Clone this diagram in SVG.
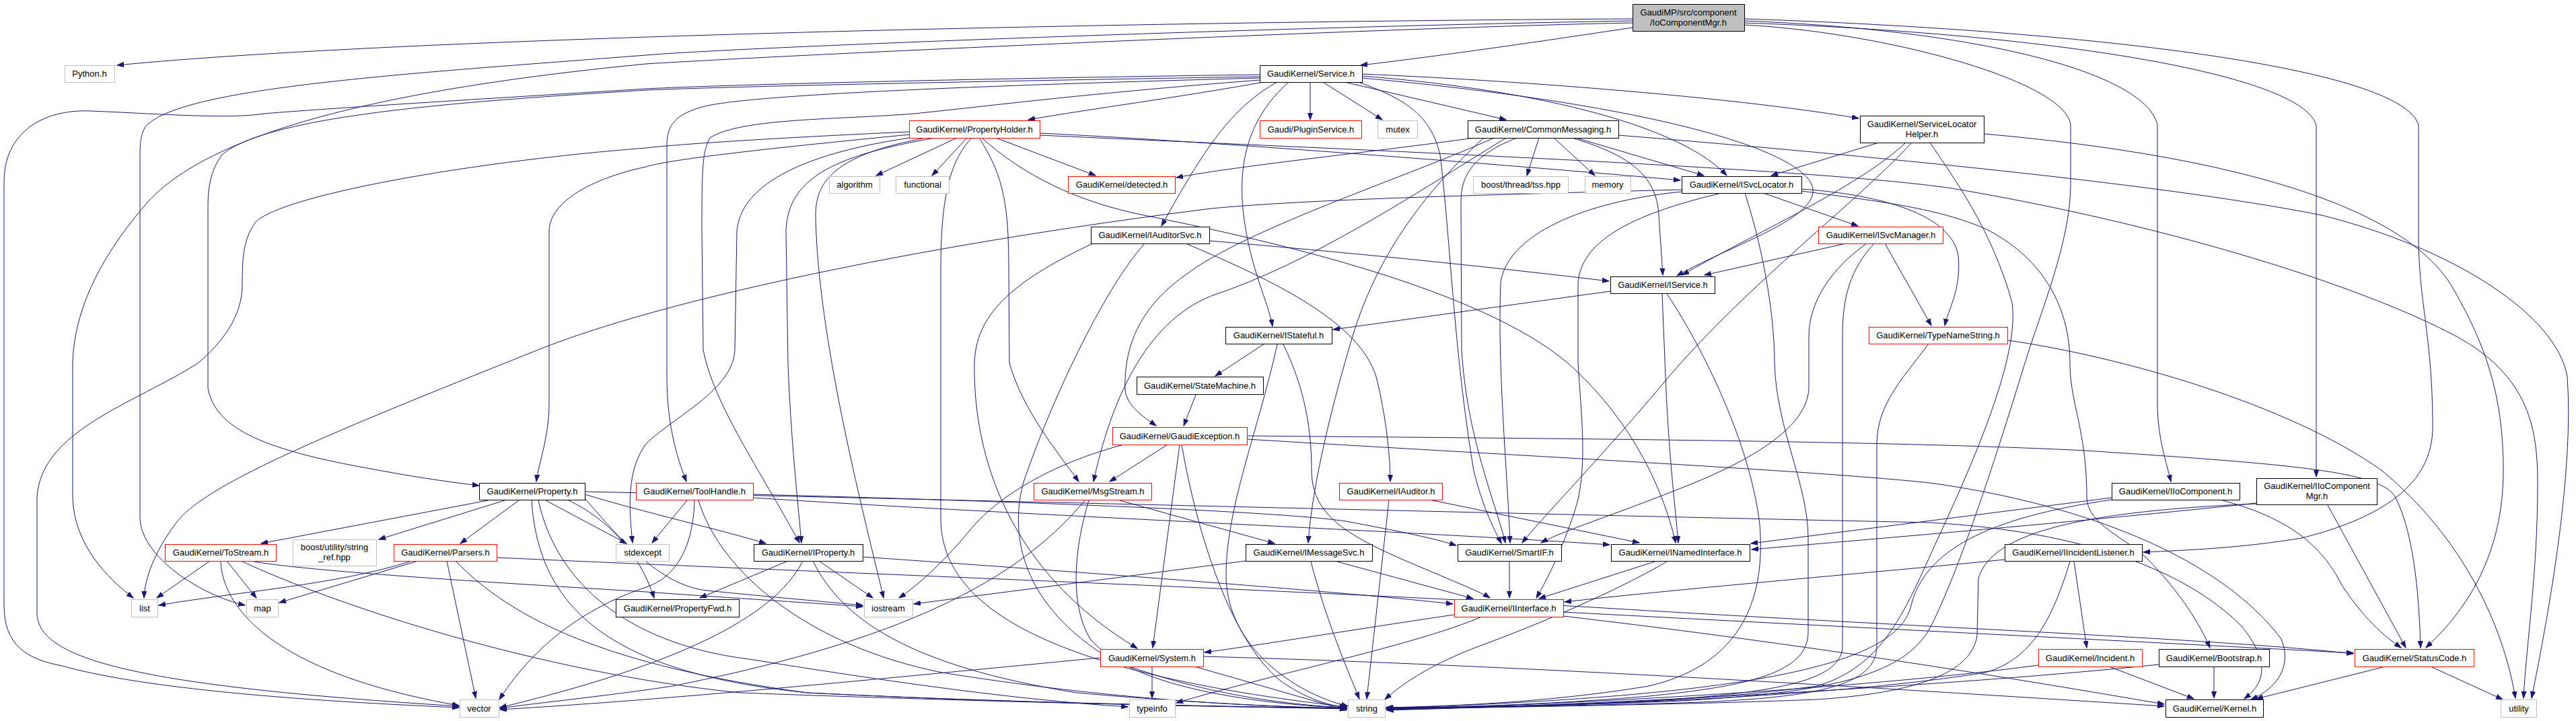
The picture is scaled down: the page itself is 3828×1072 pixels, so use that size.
<svg xmlns="http://www.w3.org/2000/svg" width="3828" height="1072" viewBox="0 0 3828 1072">
<defs>
<style>
.e{fill:none;stroke:#191970;stroke-width:1;marker-end:url(#a)}
.nb rect{fill:#fff;stroke:#000;stroke-width:1}
.ng rect{fill:#fff;stroke:#bfbfbf;stroke-width:1}
.nr rect{fill:#fff;stroke:#ff0000;stroke-width:1}
.nt rect{fill:#bfbfbf;stroke:#000;stroke-width:1}
text{font-family:"Liberation Sans",Arial,Helvetica,sans-serif;font-size:13px;fill:#000;text-anchor:middle}
</style>
<marker id="a" markerUnits="userSpaceOnUse" markerWidth="11" markerHeight="9" refX="10" refY="4" orient="auto" viewBox="0 0 11 9"><path d="M0,0.5 L10,4 L0,7.5 z" fill="#191970" stroke="#191970" stroke-width="1"/></marker>
</defs>
<rect width="3828" height="1072" fill="#fff"/>
<g id="edges">
<path class="e" d="M2426,28 C1700,32 600,55 174,97"/>
<path class="e" d="M2426,31 C1900,40 1100,70 960,82 C600,110 260,130 215,190 C208,205 208,215 208,240 L208,770 C210,830 300,885 364,900"/>
<path class="e" d="M2426,34 C2100,40 1200,80 960,95 C600,130 320,190 220,300 C150,380 110,460 108,540 L108,740 C110,810 160,860 198,889"/>
<path class="e" d="M2426,41 C2300,60 2150,82 2022,97"/>
<path class="e" d="M2592,28 C3100,45 3570,100 3594,186 L3594,350 C3594,450 3615,500 3615,635 C3615,720 3540,770 3420,800 C3330,815 3250,818 3185,821"/>
<path class="e" d="M2592,31 C2950,45 3190,110 3206,186 L3206,600 C3206,650 3220,690 3226,716"/>
<path class="e" d="M2592,34 C3050,50 3420,110 3442,186 L3442,709"/>
<path class="e" d="M2592,37 C2800,48 3070,120 3077,186 L3077,275 C3077,360 3030,470 3009,540 C2960,700 2910,850 2870,930 C2830,1010 2700,1030 2500,1042 C2300,1050 2150,1052 2060,1052"/>
<path class="e" d="M1878,122 C1750,145 1620,162 1528,178"/>
<path class="e" d="M1947,122 L1947,178"/>
<path class="e" d="M1966,122 L2054,178"/>
<path class="e" d="M1998,122 L2238,178"/>
<path class="e" d="M2024,110 C2300,122 2600,148 2762,176"/>
<path class="e" d="M2024,113 C2300,135 2500,190 2566,261"/>
<path class="e" d="M2024,116 C2400,150 2650,210 2690,270 C2720,320 2580,360 2492,410"/>
<path class="e" d="M2018,122 C2100,150 2128,180 2140,230 C2155,350 2160,520 2190,700 C2205,760 2222,790 2231,808"/>
<path class="e" d="M1898,122 C1830,160 1790,220 1726,336"/>
<path class="e" d="M1915,122 C1850,180 1840,250 1848,320 C1858,400 1885,450 1891,485"/>
<path class="e" d="M1872,114 C1500,120 1100,128 960,134 C700,150 400,170 330,230 C312,255 309,280 309,310 L309,577 C320,640 400,670 551,697 C620,710 670,717 712,722"/>
<path class="e" d="M1872,111 C1500,116 1100,125 960,132 C800,142 500,160 392,169 C340,177 250,170 135,165 C60,162 6,200 6,270 L6,900 C6,960 40,980 92,990 C200,1020 400,1040 682,1052"/>
<path class="e" d="M1872,116 C1500,126 1100,140 1040,160 C1000,172 991,190 991,215 L991,560 C991,640 1010,690 1020,716"/>
<path class="e" d="M1872,119 C1600,140 1450,160 1358,169 C1250,178 1100,175 1055,205 C1043,225 1043,260 1043,344 L1045,520 C1060,600 1130,700 1188,807"/>
<path class="e" d="M1422,205 L1302,261"/>
<path class="e" d="M1437,205 L1385,261"/>
<path class="e" d="M1480,205 L1628,261"/>
<path class="e" d="M1545,198 C1800,210 2300,250 2497,268"/>
<path class="e" d="M1545,201 C2000,222 2700,250 2900,280 C3200,330 3500,420 3650,500 C3760,560 3771,640 3771,720 C3771,850 3755,950 3750,1038"/>
<path class="e" d="M1352,200 C1200,215 1000,235 960,248 C880,265 816,300 816,344 L816,600 C816,650 800,690 797,716"/>
<path class="e" d="M1351,196 C1150,205 1000,215 960,220 C700,240 420,290 380,330 C362,355 360,380 360,424 C360,470 330,510 294,540 C200,600 60,640 55,740 L55,911 C55,980 200,1020 682,1050"/>
<path class="e" d="M1389,205 C1250,230 1170,260 1168,344 L1171,540 C1175,650 1185,740 1191,807"/>
<path class="e" d="M1376,205 C1240,230 1212,270 1212,320 C1215,500 1280,750 1313,889"/>
<path class="e" d="M1352,205 C1180,230 1100,280 1095,344 L1092,520 C1090,580 1000,620 960,660 C930,700 935,760 940,807"/>
<path class="e" d="M1444,205 C1410,240 1398,300 1398,400 L1398,773 C1400,900 1550,1000 2001,1051"/>
<path class="e" d="M1455,205 C1490,260 1499,300 1499,400 L1500,540 C1520,610 1570,670 1603,716"/>
<path class="e" d="M1459,205 C1520,260 1600,300 1700,320 C1900,360 2200,430 2330,540 C2420,620 2470,720 2490,807"/>
<path class="e" d="M2190,205 C2050,225 1850,245 1748,264"/>
<path class="e" d="M2287,205 L2269,261"/>
<path class="e" d="M2309,205 L2370,261"/>
<path class="e" d="M2342,205 L2532,261"/>
<path class="e" d="M2336,205 C2420,230 2462,260 2465,320 L2471,409"/>
<path class="e" d="M2254,205 C2190,230 2171,260 2171,300 L2172,520 C2180,650 2220,740 2237,807"/>
<path class="e" d="M2238,205 C2100,290 1950,390 1800,440 C1700,480 1650,600 1625,716"/>
<path class="e" d="M2220,205 C2100,260 1850,340 1760,410 C1690,460 1670,520 1672,580 C1675,605 1700,620 1718,633"/>
<path class="e" d="M2205,205 C2100,300 2040,400 2010,500 C1980,600 1950,720 1944,807"/>
<path class="e" d="M2405,201 C2700,225 3200,270 3450,320 C3650,370 3800,470 3815,560 C3825,700 3790,900 3762,1038"/>
<path class="e" d="M2792,212 L2632,261"/>
<path class="e" d="M2832,212 C2760,280 2600,350 2500,409"/>
<path class="e" d="M2841,212 C2760,300 2600,420 2480,560 C2380,680 2300,760 2262,807"/>
<path class="e" d="M2868,212 C2900,260 2960,340 2990,450 C3000,520 2950,650 2880,800 C2830,910 2800,990 2700,1020 C2500,1048 2200,1052 2060,1052"/>
<path class="e" d="M2948,199 C3300,230 3560,300 3640,420 C3700,520 3720,600 3720,700 C3720,850 3640,930 3605,963"/>
<path class="e" d="M2499,282 C2200,290 1950,296 1800,310 C1400,360 1000,440 800,520 C500,640 300,720 260,780 C230,820 215,860 214,889"/>
<path class="e" d="M2620,287 L2761,336"/>
<path class="e" d="M2677,281 C2800,290 2900,320 2910,380 C2915,430 2895,460 2890,484"/>
<path class="e" d="M2554,288 C2420,320 2350,360 2345,420 L2345,540 C2350,620 2360,700 2340,760 C2320,820 2300,860 2283,889"/>
<path class="e" d="M2499,285 C2350,300 2240,350 2230,420 C2225,550 2240,700 2244,807"/>
<path class="e" d="M2593,287 C2625,387 2637,480 2637,540 C2640,640 2687,720 2687,800 L2687,940 C2687,1000 2600,1020 2450,1035 C2300,1048 2150,1052 2060,1052"/>
<path class="e" d="M2677,284 C2800,300 2880,310 2950,340 C3030,380 3076,450 3076,540 C3076,600 3101,640 3101,739 C3101,780 3160,800 3190,830 C3240,880 3270,930 3284,963"/>
<path class="e" d="M2743,362 L2533,409"/>
<path class="e" d="M2801,362 L2870,484"/>
<path class="e" d="M2774,362 C2720,400 2688,450 2688,500 L2688,575 C2688,620 2640,670 2500,725 C2400,765 2320,790 2290,807"/>
<path class="e" d="M2785,362 C2750,400 2738,440 2738,500 L2738,960 C2738,1010 2650,1030 2450,1042 C2300,1050 2150,1052 2060,1053"/>
<path class="e" d="M1797,358 C2000,375 2200,395 2391,418"/>
<path class="e" d="M1762,362 C1900,420 2020,480 2045,560 C2060,620 2066,680 2066,716"/>
<path class="e" d="M1701,362 C1640,430 1560,600 1520,720 C1500,800 1520,900 1650,980 C1800,1040 1950,1050 2001,1052"/>
<path class="e" d="M1624,362 C1500,420 1450,470 1448,540 C1446,680 1500,850 1690,964"/>
<path class="e" d="M2393,433 L1981,490"/>
<path class="e" d="M2470,437 L2475,560 C2480,680 2490,760 2494,807"/>
<path class="e" d="M2477,437 C2520,500 2600,650 2615,780 C2625,900 2580,990 2450,1020 C2300,1045 2150,1050 2060,1052"/>
<path class="e" d="M1879,511 L1806,559"/>
<path class="e" d="M1898,512 C1870,640 1820,760 1822,860 C1825,960 1920,1030 2003,1050"/>
<path class="e" d="M1907,512 C1940,580 1949,640 1949,700 C1950,760 1990,790 2080,830 C2150,860 2200,880 2214,889"/>
<path class="e" d="M2866,511 C2830,560 2789,600 2789,660 L2789,960 C2789,1020 2700,1038 2500,1045 C2300,1050 2150,1053 2060,1054"/>
<path class="e" d="M2984,506 C3150,530 3400,600 3540,700 C3660,800 3720,930 3738,1038"/>
<path class="e" d="M1777,587 L1759,633"/>
<path class="e" d="M1735,661 L1649,716"/>
<path class="e" d="M1670,661 C1560,690 1480,740 1440,790 C1390,850 1350,880 1336,889"/>
<path class="e" d="M1753,661 L1713,963"/>
<path class="e" d="M1756,661 C1780,800 1830,950 1900,1010 C1940,1040 1980,1050 2001,1052"/>
<path class="e" d="M1853,648 C2300,652 2800,655 3100,670 C3400,690 3540,700 3560,740 C3590,800 3595,900 3597,963"/>
<path class="e" d="M1853,653 C2300,680 2700,700 2868,718 C3100,750 3300,830 3390,950 C3410,1000 3370,1030 3345,1040"/>
<path class="e" d="M725,744 L388,808"/>
<path class="e" d="M750,744 L563,802"/>
<path class="e" d="M771,744 L684,808"/>
<path class="e" d="M811,744 L931,808"/>
<path class="e" d="M845,744 C900,770 950,820 972,889"/>
<path class="e" d="M869,735 C950,760 1080,790 1138,808"/>
<path class="e" d="M869,741 C920,800 980,870 1050,878 C1150,888 1230,895 1282,900"/>
<path class="e" d="M790,744 C800,900 900,1000 1200,1030 C1500,1045 1800,1050 2001,1053"/>
<path class="e" d="M800,744 C830,880 950,960 1113,980 C1300,1010 1500,1040 1676,1051"/>
<path class="e" d="M869,731 C1500,745 2300,765 2868,777 C3100,790 3250,850 3330,930 C3380,990 3360,1020 3335,1039"/>
<path class="e" d="M312,834 L233,889"/>
<path class="e" d="M337,834 L381,889"/>
<path class="e" d="M328,834 C330,900 400,1000 682,1049"/>
<path class="e" d="M358,834 C500,900 800,1000 1100,1030 C1500,1045 1800,1050 2001,1054"/>
<path class="e" d="M373,834 C450,850 800,870 960,880 C1100,890 1200,896 1282,902"/>
<path class="e" d="M612,834 C500,870 350,880 236,900"/>
<path class="e" d="M621,834 L415,896"/>
<path class="e" d="M664,834 L707,1038"/>
<path class="e" d="M677,834 C760,920 900,990 1200,1030 C1500,1045 1800,1051 2001,1053"/>
<path class="e" d="M738,829 C1200,850 2000,880 2400,905 C2900,935 3300,950 3497,972"/>
<path class="e" d="M1021,744 L969,807"/>
<path class="e" d="M1032,744 C1030,820 1000,860 960,873 C880,900 800,950 742,1040"/>
<path class="e" d="M1038,744 C1070,850 1200,960 1400,1000 C1650,1040 1850,1050 2001,1053"/>
<path class="e" d="M1119,735 C1500,745 1900,760 2000,775 C2080,790 2130,800 2164,811"/>
<path class="e" d="M1119,740 C1500,765 2100,790 2392,810"/>
<path class="e" d="M1171,834 L1040,889"/>
<path class="e" d="M1217,834 L1297,889"/>
<path class="e" d="M1193,834 C1150,920 1000,990 743,1052"/>
<path class="e" d="M1208,834 C1250,920 1350,990 1600,1030 C1800,1048 1950,1052 2001,1054"/>
<path class="e" d="M1282,828 C1600,850 2000,880 2159,898"/>
<path class="e" d="M1664,744 L1894,808"/>
<path class="e" d="M1618,744 C1595,820 1590,900 1620,950 C1680,1020 1850,1045 2001,1053"/>
<path class="e" d="M1612,744 C1500,880 1300,960 1000,1020 C900,1035 800,1045 743,1053"/>
<path class="e" d="M1851,834 L1358,898"/>
<path class="e" d="M1948,835 C1970,920 2000,990 2020,1039"/>
<path class="e" d="M1987,835 L2189,890"/>
<path class="e" d="M2124,743 L2436,807"/>
<path class="e" d="M2064,744 L2031,1039"/>
<path class="e" d="M2243,834 L2243,889"/>
<path class="e" d="M2459,835 L2287,890"/>
<path class="e" d="M2477,835 C2400,880 2287,928 2200,960 C2120,990 2080,1020 2058,1040"/>
<path class="e" d="M2161,914 C2050,930 1900,955 1790,970"/>
<path class="e" d="M2202,917 C2100,960 1900,1000 1748,1045"/>
<path class="e" d="M2323,910 C2700,930 3200,955 3497,971"/>
<path class="e" d="M2323,916 C2700,960 3000,1010 3216,1047"/>
<path class="e" d="M1712,991 L1712,1038"/>
<path class="e" d="M1775,991 L2001,1056"/>
<path class="e" d="M1635,978 C1300,1010 1000,1040 743,1055"/>
<path class="e" d="M1788,976 C2300,990 2900,1030 3216,1050"/>
<path class="e" d="M3138,740 L2602,808"/>
<path class="e" d="M3303,744 C3400,770 3450,810 3480,870 C3520,930 3550,950 3568,963"/>
<path class="e" d="M3138,743 C2950,770 2860,820 2840,900 C2820,990 2600,1035 2060,1053"/>
<path class="e" d="M3353,748 C3100,775 2800,800 2603,817"/>
<path class="e" d="M3459,751 L3575,963"/>
<path class="e" d="M3353,749 C3100,760 2960,790 2940,860 L2938,945 C2930,1000 2850,1030 2700,1040 C2500,1048 2200,1052 2061,1054"/>
<path class="e" d="M2979,832 C2800,850 2500,875 2325,895"/>
<path class="e" d="M3082,835 L3101,963"/>
<path class="e" d="M3076,835 C3050,920 3020,980 2950,1000 C2700,1040 2300,1050 2061,1055"/>
<path class="e" d="M3134,991 L3260,1039"/>
<path class="e" d="M3029,989 C2800,1020 2400,1045 2061,1055"/>
<path class="e" d="M3290,991 L3290,1038"/>
<path class="e" d="M3208,988 C2900,1020 2400,1047 2061,1056"/>
<path class="e" d="M3541,992 L3353,1039"/>
<path class="e" d="M3612,991 L3719,1040"/>
</g>
<g id="node-top" class="nt"><rect x="2426.5" y="6.5" width="166" height="40"/><text x="2509" y="23">GaudiMP/src/component</text><text x="2509" y="38">/IoComponentMgr.h</text></g>
<g id="node-python" class="ng"><rect x="96.5" y="97.5" width="74" height="25"/><text x="133" y="114">Python.h</text></g>
<g id="node-service" class="nb"><rect x="1872.5" y="97.5" width="152" height="25"/><text x="1948" y="114">GaudiKernel/Service.h</text></g>
<g id="node-propertyholder" class="nr"><rect x="1351.5" y="179.5" width="194" height="26"/><text x="1448" y="197">GaudiKernel/PropertyHolder.h</text></g>
<g id="node-pluginservice" class="nr"><rect x="1872.5" y="179.5" width="151" height="26"/><text x="1948" y="197">Gaudi/PluginService.h</text></g>
<g id="node-mutex" class="ng"><rect x="2047.5" y="179.5" width="59" height="26"/><text x="2077" y="197">mutex</text></g>
<g id="node-commonmessaging" class="nb"><rect x="2181.5" y="179.5" width="224" height="26"/><text x="2293" y="197">GaudiKernel/CommonMessaging.h</text></g>
<g id="node-servicelocatorhelper" class="nb"><rect x="2764.5" y="172.5" width="184" height="40"/><text x="2856" y="189">GaudiKernel/ServiceLocator</text><text x="2856" y="204">Helper.h</text></g>
<g id="node-algorithm" class="ng"><rect x="1232.5" y="262.5" width="75" height="25"/><text x="1270" y="279">algorithm</text></g>
<g id="node-functional" class="ng"><rect x="1331.5" y="262.5" width="79" height="25"/><text x="1371" y="279">functional</text></g>
<g id="node-detected" class="nr"><rect x="1587.5" y="262.5" width="159" height="25"/><text x="1667" y="279">GaudiKernel/detected.h</text></g>
<g id="node-tss" class="ng"><rect x="2189.5" y="262.5" width="141" height="25"/><text x="2260" y="279">boost/thread/tss.hpp</text></g>
<g id="node-memory" class="ng"><rect x="2355.5" y="262.5" width="68" height="25"/><text x="2389" y="279">memory</text></g>
<g id="node-isvclocator" class="nb"><rect x="2499.5" y="262.5" width="178" height="25"/><text x="2588" y="279">GaudiKernel/ISvcLocator.h</text></g>
<g id="node-iauditorsvc" class="nb"><rect x="1621.5" y="337.5" width="176" height="25"/><text x="1709" y="354">GaudiKernel/IAuditorSvc.h</text></g>
<g id="node-isvcmanager" class="nr"><rect x="2702.5" y="337.5" width="185" height="25"/><text x="2795" y="354">GaudiKernel/ISvcManager.h</text></g>
<g id="node-iservice" class="nb"><rect x="2393.5" y="411.5" width="155" height="25"/><text x="2471" y="428">GaudiKernel/IService.h</text></g>
<g id="node-istateful" class="nb"><rect x="1821.5" y="486.5" width="158" height="25"/><text x="1900" y="503">GaudiKernel/IStateful.h</text></g>
<g id="node-typenamestring" class="nr"><rect x="2777.5" y="486.5" width="206" height="25"/><text x="2880" y="503">GaudiKernel/TypeNameString.h</text></g>
<g id="node-statemachine" class="nb"><rect x="1689.5" y="560.5" width="188" height="26"/><text x="1783" y="578">GaudiKernel/StateMachine.h</text></g>
<g id="node-gaudiexception" class="nr"><rect x="1653.5" y="635.5" width="200" height="26"/><text x="1753" y="653">GaudiKernel/GaudiException.h</text></g>
<g id="node-property" class="nb"><rect x="712.5" y="718.5" width="157" height="25"/><text x="791" y="735">GaudiKernel/Property.h</text></g>
<g id="node-toolhandle" class="nr"><rect x="945.5" y="718.5" width="174" height="25"/><text x="1032" y="735">GaudiKernel/ToolHandle.h</text></g>
<g id="node-msgstream" class="nr"><rect x="1536.5" y="718.5" width="175" height="25"/><text x="1624" y="735">GaudiKernel/MsgStream.h</text></g>
<g id="node-iauditor" class="nr"><rect x="1990.5" y="718.5" width="153" height="25"/><text x="2067" y="735">GaudiKernel/IAuditor.h</text></g>
<g id="node-iiocomponent" class="nb"><rect x="3138.5" y="718.5" width="190" height="25"/><text x="3233" y="735">GaudiKernel/IIoComponent.h</text></g>
<g id="node-iiocomponentmgr" class="nb"><rect x="3353.5" y="711.5" width="179" height="39"/><text x="3443" y="727">GaudiKernel/IIoComponent</text><text x="3443" y="742">Mgr.h</text></g>
<g id="node-tostream" class="nr"><rect x="245.5" y="809.5" width="165" height="25"/><text x="328" y="826">GaudiKernel/ToStream.h</text></g>
<g id="node-stringref" class="ng"><rect x="435.5" y="802.5" width="124" height="39"/><text x="497" y="818">boost/utility/string</text><text x="497" y="833">_ref.hpp</text></g>
<g id="node-parsers" class="nr"><rect x="585.5" y="809.5" width="153" height="25"/><text x="662" y="826">GaudiKernel/Parsers.h</text></g>
<g id="node-stdexcept" class="ng"><rect x="915.5" y="809.5" width="79" height="25"/><text x="955" y="826">stdexcept</text></g>
<g id="node-iproperty" class="nb"><rect x="1120.5" y="809.5" width="162" height="25"/><text x="1201" y="826">GaudiKernel/IProperty.h</text></g>
<g id="node-imessagesvc" class="nb"><rect x="1851.5" y="809.5" width="188" height="25"/><text x="1945" y="826">GaudiKernel/IMessageSvc.h</text></g>
<g id="node-smartif" class="nb"><rect x="2166.5" y="809.5" width="154" height="25"/><text x="2243" y="826">GaudiKernel/SmartIF.h</text></g>
<g id="node-inamedinterface" class="nb"><rect x="2394.5" y="809.5" width="206" height="25"/><text x="2497" y="826">GaudiKernel/INamedInterface.h</text></g>
<g id="node-iincidentlistener" class="nb"><rect x="2979.5" y="809.5" width="204" height="25"/><text x="3081" y="826">GaudiKernel/IIncidentListener.h</text></g>
<g id="node-list" class="ng"><rect x="195.5" y="891.5" width="39" height="26"/><text x="215" y="909">list</text></g>
<g id="node-map" class="ng"><rect x="366.5" y="891.5" width="47" height="26"/><text x="390" y="909">map</text></g>
<g id="node-propertyfwd" class="nb"><rect x="915.5" y="891.5" width="183" height="26"/><text x="1007" y="909">GaudiKernel/PropertyFwd.h</text></g>
<g id="node-iostream" class="ng"><rect x="1284.5" y="891.5" width="72" height="26"/><text x="1320" y="909">iostream</text></g>
<g id="node-iinterface" class="nr"><rect x="2161.5" y="891.5" width="162" height="26"/><text x="2242" y="909">GaudiKernel/IInterface.h</text></g>
<g id="node-system" class="nr"><rect x="1635.5" y="965.5" width="153" height="26"/><text x="1712" y="983">GaudiKernel/System.h</text></g>
<g id="node-incident" class="nr"><rect x="3029.5" y="965.5" width="154" height="26"/><text x="3106" y="983">GaudiKernel/Incident.h</text></g>
<g id="node-bootstrap" class="nb"><rect x="3208.5" y="965.5" width="164" height="26"/><text x="3290" y="983">GaudiKernel/Bootstrap.h</text></g>
<g id="node-statuscode" class="nr"><rect x="3499.5" y="965.5" width="177" height="26"/><text x="3588" y="983">GaudiKernel/StatusCode.h</text></g>
<g id="node-vector" class="ng"><rect x="683.5" y="1040.5" width="58" height="26"/><text x="712" y="1058">vector</text></g>
<g id="node-typeinfo" class="ng"><rect x="1678.5" y="1040.5" width="68" height="26"/><text x="1712" y="1058">typeinfo</text></g>
<g id="node-string" class="ng"><rect x="2003.5" y="1040.5" width="55" height="26"/><text x="2031" y="1058">string</text></g>
<g id="node-kernel" class="nb"><rect x="3218.5" y="1040.5" width="145" height="26"/><text x="3291" y="1058">GaudiKernel/Kernel.h</text></g>
<g id="node-utility" class="ng"><rect x="3716.5" y="1040.5" width="53" height="26"/><text x="3743" y="1058">utility</text></g>
</svg>
